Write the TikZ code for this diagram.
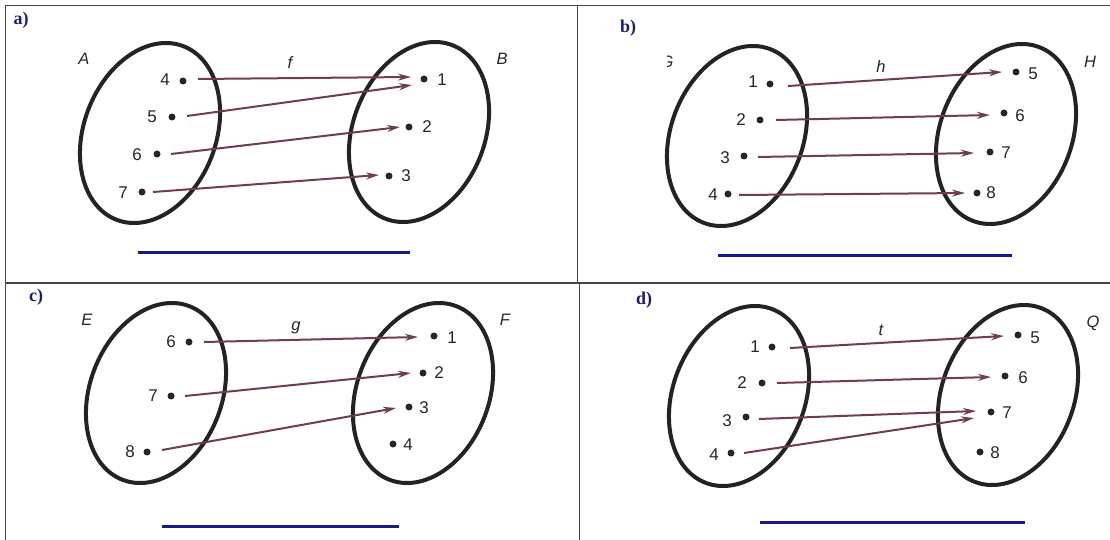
\documentclass[tikz,border=0pt]{standalone}
\usepackage{fontspec}
\setmainfont{Liberation Sans}
\newfontfamily\serifbold{Liberation Serif}
\usetikzlibrary{arrows.meta,shapes.geometric}
\definecolor{gridc}{RGB}{70,70,70}
\definecolor{setc}{RGB}{35,35,35}
\definecolor{arrc}{RGB}{112,62,74}
\definecolor{bluec}{RGB}{24,24,140}
\definecolor{navyc}{RGB}{28,28,110}
\begin{document}
\begin{tikzpicture}[x=1pt,y=1pt,
 gridline/.style={draw=gridc,line width=1.5pt},
 setell/.style={draw=setc,line width=4pt,ellipse,minimum width=132pt,minimum height=186pt,inner sep=0pt,outer sep=0pt,rotate=-21},
 dot/.style={circle,fill=black!85,inner sep=0pt,minimum size=7pt},
 num/.style={font=\fontsize{17}{18}\selectfont,text=black!85,inner sep=0pt},
 setlab/.style={font=\fontsize{16.5}{18}\selectfont\itshape,text=black!85,inner sep=0pt},
 panlab/.style={font=\serifbold\bfseries\fontsize{18}{19}\selectfont,text=navyc,inner sep=0pt},
 arr/.style={draw=arrc,line width=2pt,-{Stealth[length=13pt,width=7pt]}},
 answer/.style={draw=bluec,line width=3pt}]
\fill[white] (0,0) rectangle (1110,-540);
\useasboundingbox (0,0) rectangle (1110,-540);
% grid
\coordinate (gtl) at (5.5,-5.5);
\coordinate (gtr) at (1110,-5.5);
\coordinate (gbl) at (5.5,-540);
\coordinate (gml) at (5.5,-283);
\coordinate (gmr) at (1110,-283);
\coordinate (gvt) at (577.5,-5.5);
\coordinate (gvm) at (577.5,-283);
\coordinate (gvm2) at (579.5,-283);
\coordinate (gvb) at (579.5,-540);
\draw[gridline] (gtl) -- (gtr);
\draw[gridline] (gtl) -- (gbl);
\draw[gridline] (gml) -- (gmr);
\draw[gridline] (gvt) -- (gvm);
\draw[gridline] (gvm2) -- (gvb);

% ---------- panel a ----------
\node[panlab] (pa) at (21,-20) {a)};
\node[setell] (A) at (150,-133) {};
\node[setell] (B) at (419,-132) {};
\node[setlab] (lA) at (84,-59) {A};
\node[setlab] (lB) at (502,-59) {B};
\node[setlab] (lf) at (290,-63) {f};
\node[dot] (a4) at (183,-81) {};
\node[dot] (a5) at (172,-117) {};
\node[dot] (a6) at (157,-154) {};
\node[dot] (a7) at (142,-192) {};
\node[num] (ta4) at (165,-80) {4};
\node[num] (ta5) at (152,-117) {5};
\node[num] (ta6) at (137,-155) {6};
\node[num] (ta7) at (123,-193) {7};
\node[dot] (b1) at (424,-79) {};
\node[dot] (b2) at (409,-127) {};
\node[dot] (b3) at (389,-176) {};
\node[num] (tb1) at (442,-80) {1};
\node[num] (tb2) at (427,-127) {2};
\node[num] (tb3) at (406,-176) {3};
\draw[arr] ([shift={(15,2)}]a4.center) -- ([shift={(-13,2)}]b1.center);
\draw[arr] ([shift={(15,1)}]a5.center) -- ([shift={(-12,-6)}]b1.center);
\draw[arr] ([shift={(14,0)}]a6.center) -- ([shift={(-9,0)}]b2.center);
\draw[arr] ([shift={(11,0)}]a7.center) -- ([shift={(-10,1)}]b3.center);
\coordinate (ua1) at (137.5,-252);
\coordinate (ua2) at (410,-252);
\draw[answer] (ua1) -- (ua2);

% ---------- panel b ----------
\node[panlab] (pb) at (628,-28) {b)};
\node[setell] (G) at (737,-136) {};
\node[setell] (H) at (1006,-134) {};
\begin{scope}
\clip (667,-40) rectangle (700,-90);
\node[setlab] (lG) at (667,-62) {G};
\end{scope}
\node[setlab] (lH) at (1090,-62) {H};
\node[setlab] (lh) at (881,-67) {h};
\node[dot] (g1) at (770,-84) {};
\node[dot] (g2) at (760,-120) {};
\node[dot] (g3) at (744,-156) {};
\node[dot] (g4) at (728,-194) {};
\node[num] (tg1) at (753,-82) {1};
\node[num] (tg2) at (741,-120) {2};
\node[num] (tg3) at (725,-158) {3};
\node[num] (tg4) at (713,-195) {4};
\node[dot] (h5) at (1016,-72) {};
\node[dot] (h6) at (1004,-113) {};
\node[dot] (h7) at (990,-152) {};
\node[dot] (h8) at (977,-193) {};
\node[num] (th5) at (1033,-74) {5};
\node[num] (th6) at (1020,-116) {6};
\node[num] (th7) at (1006,-153) {7};
\node[num] (th8) at (991,-193) {8};
\draw[arr] ([shift={(18,-2)}]g1.center) -- ([shift={(-14,0)}]h5.center);
\draw[arr] ([shift={(16,0)}]g2.center) -- ([shift={(-14,-2)}]h6.center);
\draw[arr] ([shift={(14,-1)}]g3.center) -- ([shift={(-16,-1)}]h7.center);
\draw[arr] ([shift={(11,-1)}]g4.center) -- ([shift={(-12,0)}]h8.center);
\coordinate (ub1) at (718,-255);
\coordinate (ub2) at (1012,-255);
\draw[answer] (ub1) -- (ub2);

% ---------- panel c ----------
\node[panlab] (pc) at (36,-297) {c)};
\node[setell] (E) at (156,-393) {};
\node[setell] (F) at (423,-393) {};
\node[setlab] (lE) at (87,-320) {E};
\node[setlab] (lF) at (505,-320) {F};
\node[setlab] (lg) at (296,-328) {g};
\node[dot] (e6) at (189,-342) {};
\node[dot] (e7) at (171,-396) {};
\node[dot] (e8) at (147,-452) {};
\node[num] (te6) at (171,-342) {6};
\node[num] (te7) at (153,-396) {7};
\node[num] (te8) at (130,-452) {8};
\node[dot] (f1) at (434,-336) {};
\node[dot] (f2) at (423,-373) {};
\node[dot] (f3) at (409,-407) {};
\node[dot] (f4) at (393,-444) {};
\node[num] (tf1) at (452,-338) {1};
\node[num] (tf2) at (439,-373) {2};
\node[num] (tf3) at (424,-408) {3};
\node[num] (tf4) at (408,-445) {4};
\draw[arr] ([shift={(15,0)}]e6.center) -- ([shift={(-16,-1)}]f1.center);
\draw[arr] ([shift={(14,0)}]e7.center) -- ([shift={(-12,0)}]f2.center);
\draw[arr] ([shift={(15,2)}]e8.center) -- ([shift={(-13,-1)}]f3.center);
\coordinate (uc1) at (162,-526);
\coordinate (uc2) at (399,-526);
\draw[answer] (uc1) -- (uc2);

% ---------- panel d ----------
\node[panlab] (pd) at (644,-300) {d)};
\node[setell] (L) at (739,-396) {};
\node[setell] (R) at (1008,-395) {};
\node[setlab] (lQ) at (1093,-323) {Q};
\node[setlab] (lt) at (881,-330) {t};
\node[dot] (l1) at (772,-347) {};
\node[dot] (l2) at (762,-383) {};
\node[dot] (l3) at (746,-417) {};
\node[dot] (l4) at (731,-453) {};
\node[num] (tl1) at (755,-347) {1};
\node[num] (tl2) at (742,-383) {2};
\node[num] (tl3) at (727,-421) {3};
\node[num] (tl4) at (714,-455) {4};
\node[dot] (r5) at (1018,-335) {};
\node[dot] (r6) at (1005,-376) {};
\node[dot] (r7) at (991,-412) {};
\node[dot] (r8) at (980,-452) {};
\node[num] (tr5) at (1035,-338) {5};
\node[num] (tr6) at (1023,-378) {6};
\node[num] (tr7) at (1007,-413) {7};
\node[num] (tr8) at (995,-453) {8};
\draw[arr] ([shift={(18,-1)}]l1.center) -- ([shift={(-14,-1)}]r5.center);
\draw[arr] ([shift={(15,0)}]l2.center) -- ([shift={(-14,-1)}]r6.center);
\draw[arr] ([shift={(13,-2)}]l3.center) -- ([shift={(-15,1)}]r7.center);
\draw[arr] ([shift={(13,0)}]l4.center) -- ([shift={(-17,-6)}]r7.center);
\coordinate (ud1) at (760,-522);
\coordinate (ud2) at (1025,-522);
\draw[answer] (ud1) -- (ud2);
\end{tikzpicture}
\end{document}
